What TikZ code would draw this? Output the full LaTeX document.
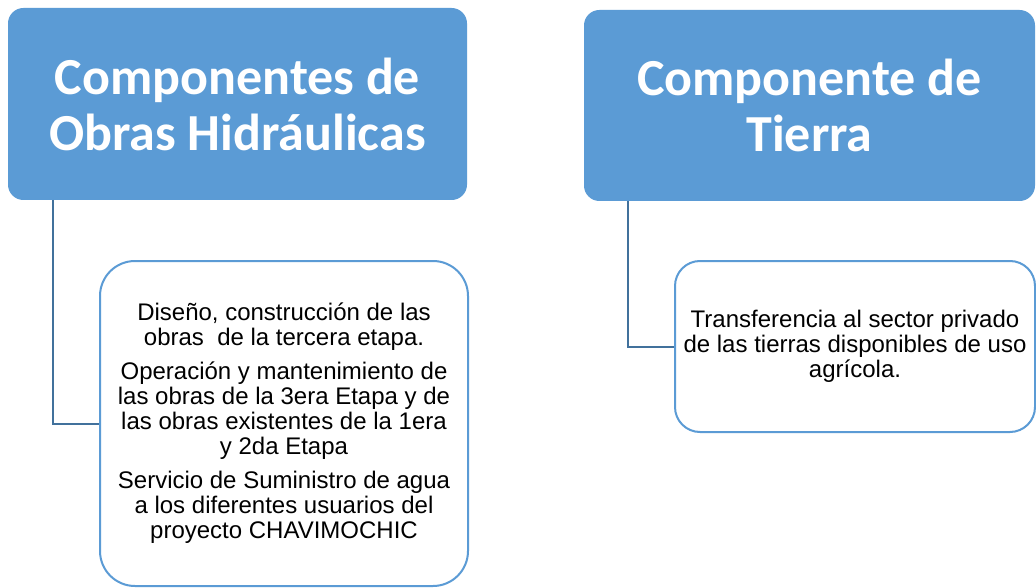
\documentclass[tikz,border=0pt]{standalone}
\usepackage{fontspec}
\setmainfont{Liberation Sans}
\newfontfamily\headfont{Carlito}
\definecolor{hdrblue}{HTML}{5B9BD5}
\definecolor{lnblue}{HTML}{41719C}
\begin{document}
\begin{tikzpicture}[x=1pt,y=1pt,
  header/.style={draw=hdrblue, fill=hdrblue, rounded corners=15pt, line width=1pt,
    anchor=north west, inner sep=0pt, align=center, text=white,
    font=\headfont\bfseries\fontsize{52}{56}\selectfont},
  childbox/.style={draw=hdrblue, fill=white, line width=2pt, anchor=north west,
    inner sep=0pt, align=center, text=black, font=\fontsize{24}{25}\selectfont},
  conn/.style={draw=lnblue, line width=2pt}]
\fill[white] (0,0) rectangle (1036,-588);
\useasboundingbox (0,0) rectangle (1036,-588);
\node[header, minimum width=458pt, minimum height=191pt] (h1) at (8,-8)
  {Componentes de\\Obras Hidráulicas};
\node[header, minimum width=450pt, minimum height=190pt] (h2) at (584,-10)
  {Componente de\\Tierra};
\node[childbox, minimum width=368pt, minimum height=325pt, rounded corners=35pt] (c1) at (99,-260)
  {Diseño, construcción de las\\obras \ de la tercera etapa.\\[9pt]
   Operación y mantenimiento de\\las obras de la 3era Etapa y de\\las obras existentes de la 1era\\y 2da Etapa\\[9pt]
   Servicio de Suministro de agua\\a los diferentes usuarios del\\proyecto CHAVIMOCHIC};
\node[childbox, minimum width=360pt, minimum height=171pt, rounded corners=25pt] (c2) at (674,-260)
  {Transferencia al sector privado\\de las tierras disponibles de uso\\agrícola.};
\draw[conn] ([xshift=45pt]h1.south west) |- (c1.west);
\draw[conn] ([xshift=44pt]h2.south west) |- (c2.west);
\end{tikzpicture}
\end{document}
